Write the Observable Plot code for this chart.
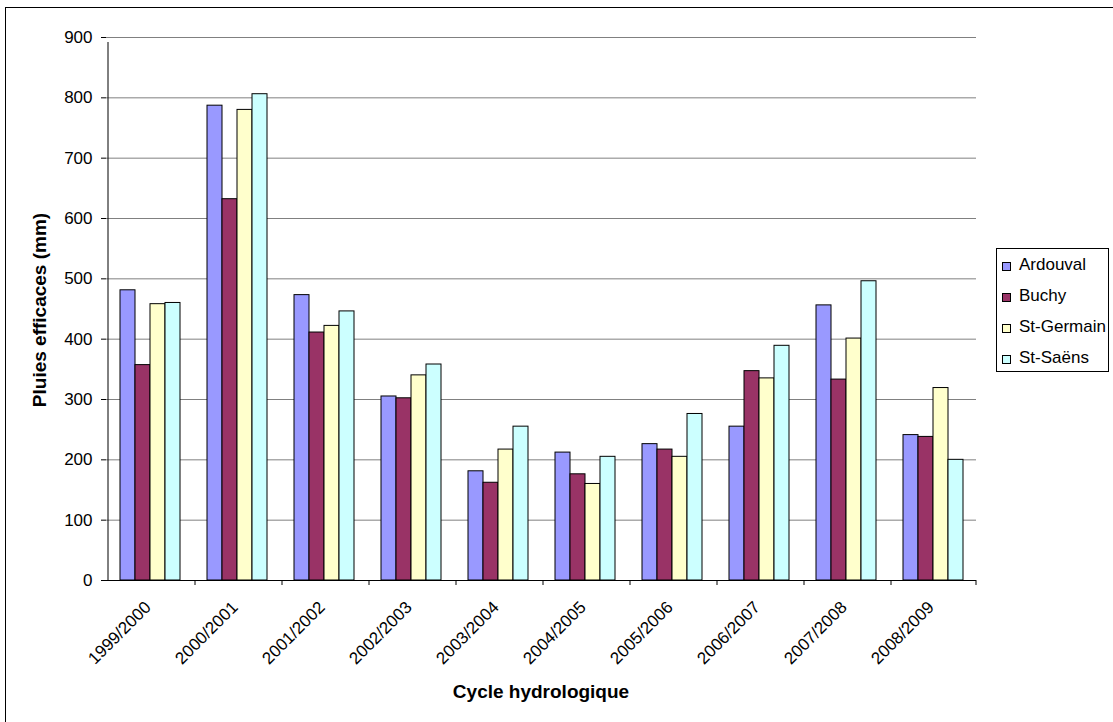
<!DOCTYPE html>
<html>
<head>
<meta charset="utf-8">
<script src="https://cdn.jsdelivr.net/npm/d3@7"></script>
<script src="https://cdn.jsdelivr.net/npm/@observablehq/plot@0.6"></script>
<style>
  body { margin: 0; background: #fff; font-family: "Liberation Sans", Arial, sans-serif; }
  #chart { position: relative; width: 1113px; height: 722px; overflow: hidden; background: #fff; }
  #border { position: absolute; left: 5px; top: 7px; width: 1130px; height: 740px; border: 1px solid #000; }
  #plot { position: absolute; left: 0; top: 0; }
  #ytitle { position: absolute; left: 40px; top: 310px; transform: translate(-50%, -50%) rotate(-90deg);
            font-weight: bold; font-size: 19px; white-space: nowrap; }
  #xtitle { position: absolute; left: 541px; top: 692px; transform: translate(-50%, -50%);
            font-weight: bold; font-size: 19px; white-space: nowrap; }
  #legend { position: absolute; left: 996px; top: 248px; width: 113px; height: 124px; overflow: hidden;
            border: 1px solid #000; background: #fff; box-sizing: border-box; padding: 0 0 0 5px; }
  .item { display: flex; align-items: center; height: 31px; font-size: 17px; white-space: nowrap; }
  .sw { flex: none; width: 7px; height: 7px; border: 1px solid #000; margin: 3px 8px 0 0; }
</style>
</head>
<body>
<div id="chart">
  <div id="border"></div>
  <div id="plot"></div>
  <div id="ytitle">Pluies efficaces (mm)</div>
  <div id="xtitle">Cycle hydrologique</div>
  <div id="legend"></div>
</div>
<script>
// Hydrological cycles and rain-gauge stations
const cycles = ["1999/2000", "2000/2001", "2001/2002", "2002/2003", "2003/2004",
                "2004/2005", "2005/2006", "2006/2007", "2007/2008", "2008/2009"];
const stations = ["Ardouval", "Buchy", "St-Germain", "St-Saëns"];
const colors = ["#9999FF", "#993366", "#FFFFCC", "#CCFFFF"];

// Effective rainfall (mm) per cycle
const ardouval  = [481, 787, 473, 305, 181, 212, 226, 255, 456, 241];
const buchy     = [357, 632, 411, 302, 162, 176, 217, 347, 333, 238];
const stGermain = [458, 780, 422, 340, 217, 160, 205, 335, 401, 319];
const stSaens   = [460, 806, 446, 358, 255, 205, 276, 389, 496, 200];
const yTicks = [0, 100, 200, 300, 400, 500, 600, 700, 800, 900];

const series = [ardouval, buchy, stGermain, stSaens];
const rows = cycles.flatMap((c, i) => stations.map((s, j) => ({cycle: c, station: s, value: series[j][i]})));

// Category boundaries: left edge of each cycle, plus the right end of the last one
const leftEdges = cycles.map((c, i) => ({cycle: c, top: i === 0 ? 900 : 0}));
const rightEdge = [{cycle: cycles[cycles.length - 1], top: 0}];

const chart = Plot.plot({
  width: 1113,
  height: 722,
  marginLeft: 101,
  marginRight: 133,
  marginTop: 37,
  marginBottom: 142,
  style: {fontFamily: "Liberation Sans, Arial, sans-serif", fontSize: "17px", color: "#000", background: "transparent"},
  fx: {domain: cycles, padding: 0, label: null},
  x: {domain: stations, paddingInner: 0, paddingOuter: 0.75, axis: null},
  y: {domain: [0, 900], label: null},
  color: {domain: stations, range: colors},
  marks: [
    Plot.gridY(yTicks, {stroke: "#808080", strokeOpacity: 1}),
    Plot.barY(rows, {fx: "cycle", x: "station", y: "value", fill: "station", stroke: "#000", strokeWidth: 1}),
    Plot.ruleY([0], {stroke: "#000"}),
    Plot.ruleX(leftEdges, {fx: "cycle", x: () => stations[0], y1: 0, y2: "top", dx: -20, insetBottom: -5, stroke: "#000"}),
    Plot.ruleX(rightEdge, {fx: "cycle", x: () => stations[3], y1: 0, y2: "top", dx: 20, insetBottom: -5, stroke: "#000"}),
    Plot.axisY(yTicks, {tickSize: 5, tickPadding: 9, label: null, fontSize: 17}),
    Plot.axisFx({anchor: "bottom", tickSize: 0, tickPadding: 24, tickRotate: -45, dx: -2, label: null, fontSize: 17})
  ]
});
document.getElementById("plot").appendChild(chart);

// Legend
const legend = document.getElementById("legend");
stations.forEach((s, j) => {
  const item = document.createElement("div");
  item.className = "item";
  const sw = document.createElement("span");
  sw.className = "sw";
  sw.style.background = colors[j];
  item.appendChild(sw);
  item.appendChild(document.createTextNode(s));
  legend.appendChild(item);
});
</script>
</body>
</html>
